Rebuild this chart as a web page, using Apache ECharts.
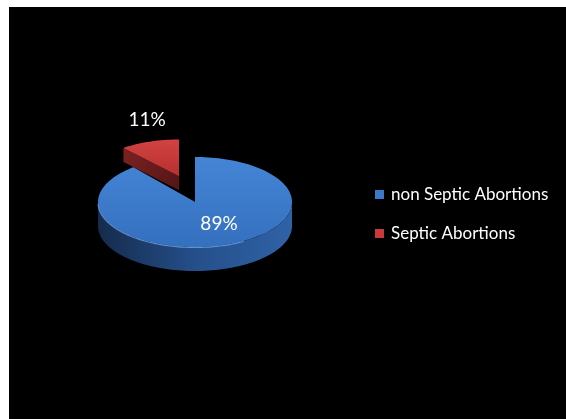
<!DOCTYPE html>
<html>
<head>
<meta charset="utf-8">
<script src="https://cdn.jsdelivr.net/npm/echarts@6/dist/echarts.min.js"></script>
<style>
  html, body { margin: 0; padding: 0; background: #ffffff; width: 566px; height: 419px; overflow: hidden; }
  #c { position: absolute; left: 9px; top: 7px; width: 557px; height: 412px; background: #000000; }
</style>
</head>
<body>
<div id="c"></div>
<script>
// ---- data ----
const categories = ['non Septic Abortions', 'Septic Abortions'];
const values = [89, 11];
const valueLabels = ['89%', '11%'];

// ---- style / layout ----
const topColors = [['#4585d6', '#3470be'], ['#d24343', '#b73030']];
const wallColors = [['#2f62a6', '#254f8a', '#152b4c'], ['#6a1b1b', '#5a1616', '#401010']];
const faceColors = [['#2a5793', '#1e3f6c'], ['#7c2222', '#531515']];
const rimColors = ['#6aa3e6', '#e06060'];
const legendColors = ['#3b78c8', '#c83a3a'];
const explode = [0, 47];
const scaleX = [1, 0.9];
const scaleY = [1, 0.82];
const depth = [24, 14];
const labelOff = [[24, 22], [-32, -56]];
const base = { cx: 186, cy: 195, rx: 97, ry: 45 };
const explodeK = 0.58;

const chart = echarts.init(document.getElementById('c'), null, { renderer: 'canvas' });

function pt(c, a, dy) {
  const r = a * Math.PI / 180;
  return [c.cx + c.rx * Math.sin(r), c.cy - c.ry * Math.cos(r) + (dy || 0)];
}
function arc(c, a, b, dy) {
  const pts = [];
  const n = Math.max(2, Math.ceil(Math.abs(b - a) / 2));
  for (let i = 0; i <= n; i++) pts.push(pt(c, a + (b - a) * i / n, dy));
  return pts;
}
function grad(x0, y0, x1, y1, cols) {
  return new echarts.graphic.LinearGradient(x0, y0, x1, y1,
    cols.map((c, i) => ({ offset: i / (cols.length - 1), color: c })));
}

function makeRender(idx) {
  return function (params, api) {
    const total = values.reduce((s, v) => s + v, 0);
    const startV = values.slice(0, idx).reduce((s, v) => s + v, 0);
    const start = startV / total * 360;
    const end = start + api.value(0) / total * 360;
    const mid = (start + end) / 2;
    const mr = mid * Math.PI / 180;
    const c = {
      cx: base.cx + explode[idx] * Math.sin(mr),
      cy: base.cy - explode[idx] * explodeK * Math.cos(mr),
      rx: base.rx * scaleX[idx],
      ry: base.ry * scaleY[idx]
    };
    const d = depth[idx];
    const children = [];
    // radial cut faces
    [start, end].forEach(function (a) {
      const p = pt(c, a);
      children.push({
        type: 'polygon',
        shape: { points: [[c.cx, c.cy], p, [p[0], p[1] + d], [c.cx, c.cy + d]] },
        style: { fill: grad(0, 0, 1, 1, faceColors[idx]) }
      });
    });
    // outer wall (front half only)
    const wa = Math.max(start, 90), wb = Math.min(end, 270);
    if (wb > wa) {
      const top = arc(c, wa, wb, 0);
      const bot = arc(c, wb, wa, d);
      children.push({
        type: 'polygon',
        shape: { points: top.concat(bot) },
        style: { fill: grad(1, 0, 0, 0, wallColors[idx]) }
      });
    }
    // top face
    children.push({
      type: 'polygon',
      shape: { points: [[c.cx, c.cy]].concat(arc(c, start, end, 0)) },
      style: { fill: grad(0, 0, 0, 1, topColors[idx]) }
    });
    // rim highlight on front edge
    if (wb > wa) {
      children.push({
        type: 'polyline',
        shape: { points: arc(c, Math.min(wb, 268), Math.max(wa, 150), 0.5) },
        style: { stroke: rimColors[idx], lineWidth: 1.2, fill: null, opacity: 0.8 }
      });
    }
    // label
    children.push({
      type: 'text',
      style: {
        text: valueLabels[idx],
        x: c.cx + labelOff[idx][0],
        y: c.cy + labelOff[idx][1],
        align: 'center',
        verticalAlign: 'middle',
        fill: '#ffffff',
        font: '19px Lato'
      }
    });
    return { type: 'group', children: children };
  };
}

const series = categories.map(function (name, i) {
  return {
    type: 'custom',
    name: name,
    coordinateSystem: 'none',
    z: i === 0 ? 6 : 4,
    itemStyle: { color: legendColors[i] },
    data: [[values[i]]],
    renderItem: makeRender(i),
    silent: true
  };
});

chart.setOption({
  backgroundColor: '#000000',
  animation: false,
  legend: {
    orient: 'vertical',
    left: 366,
    top: 179,
    padding: 0,
    icon: 'rect',
    itemWidth: 9,
    itemHeight: 9,
    itemGap: 22,
    selectedMode: false,
    textStyle: { color: '#ffffff', fontSize: 17, fontFamily: 'Lato', padding: [0, 0, 0, 2] },
    data: categories.map(function (n, i) { return { name: n, itemStyle: { color: legendColors[i] } }; })
  },
  series: series
});
</script>
</body>
</html>
